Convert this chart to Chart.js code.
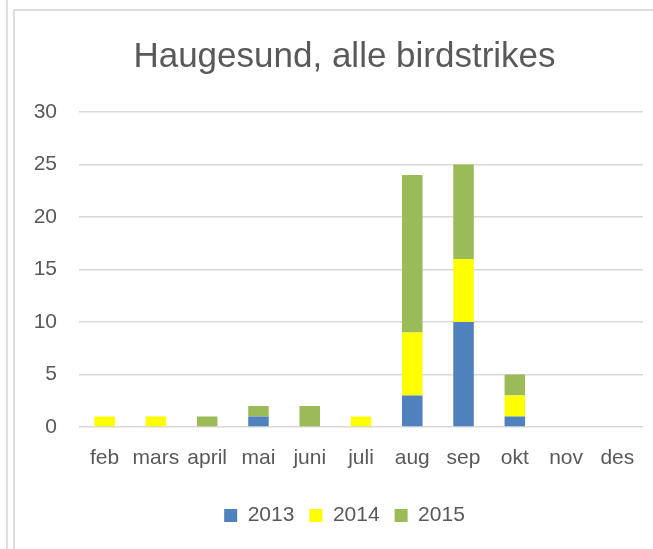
<!DOCTYPE html>
<html>
<head>
<meta charset="utf-8">
<script src="https://cdn.jsdelivr.net/npm/chart.js@4/dist/chart.umd.min.js"></script>
<style>
  html, body { margin: 0; padding: 0; background: #ffffff; width: 653px; height: 549px; overflow: hidden; position: relative; }
  #outerLine { position: absolute; left: 6px; top: 0; width: 2px; height: 549px; background: #e0e0e0; }
  #frame { position: absolute; left: 13px; top: 9px; width: 700px; height: 600px; border: 2px solid #dddddd; box-sizing: border-box; }
  #wrap { position: absolute; left: 16px; top: 12px; width: 657px; height: 537px; }
</style>
</head>
<body>
<div id="outerLine"></div>
<div id="frame"></div>
<div id="wrap"><canvas id="c" width="657" height="537"></canvas></div>
<script>
const categories = ["feb", "mars", "april", "mai", "juni", "juli", "aug", "sep", "okt", "nov", "des"];
const seriesNames = ["2013", "2014", "2015"];
const values2013 = [0, 0, 0, 1, 0, 0, 3, 10, 1, 0, 0];
const values2014 = [1, 1, 0, 0, 0, 1, 6, 6, 2, 0, 0];
const values2015 = [0, 0, 1, 1, 2, 0, 15, 9, 2, 0, 0];
const yTicks = [0, 5, 10, 15, 20, 25, 30];
const titleText = "Haugesund, alle birdstrikes";

const colors = ["#4F81BD", "#FFFF00", "#9BBB59"];
const textColor = "#595959";
const fontFamily = "'Liberation Sans', Arial, sans-serif";

const seriesValues = [values2013, values2014, values2015];

new Chart(document.getElementById("c"), {
  type: "bar",
  data: {
    labels: categories,
    datasets: seriesNames.map((name, i) => ({
      label: name,
      data: seriesValues[i],
      backgroundColor: colors[i],
      borderWidth: 0,
      categoryPercentage: 0.4,
      barPercentage: 1.0
    }))
  },
  options: {
    responsive: false,
    animation: false,
    devicePixelRatio: 1,
    layout: { padding: { left: 0, right: 0, top: 0, bottom: 13 } },
    plugins: {
      title: {
        display: true,
        text: titleText,
        color: textColor,
        font: { family: fontFamily, size: 35, weight: "normal" },
        padding: { top: 24, bottom: 34 }
      },
      legend: {
        display: true,
        position: "bottom",
        labels: {
          color: textColor,
          font: { family: fontFamily, size: 21 },
          boxWidth: 13,
          boxHeight: 13,
          padding: 15
        }
      },
      tooltip: { enabled: false }
    },
    scales: {
      x: {
        stacked: true,
        grid: { display: false, drawTicks: false },
        border: { display: false },
        ticks: {
          color: textColor,
          font: { family: fontFamily, size: 21 },
          padding: 19,
          maxRotation: 0,
          minRotation: 0,
          autoSkip: false
        },
        afterFit: (scale) => { scale.height = 63; }
      },
      y: {
        stacked: true,
        min: 0,
        max: 30,
        afterBuildTicks: (scale) => { scale.ticks = yTicks.map(v => ({ value: v })); },
        grid: { color: "#d9d9d9", lineWidth: 1.5, drawTicks: false },
        border: { display: false },
        ticks: {
          color: textColor,
          font: { family: fontFamily, size: 21 },
          padding: 22
        },
        afterFit: (scale) => { scale.width = 63; }
      },
      yRightSpace: {
        position: "right",
        display: true,
        grid: { display: false, drawTicks: false },
        border: { display: false },
        ticks: { display: false },
        afterFit: (scale) => { scale.width = 30; }
      }
    }
  }
});
</script>
</body>
</html>
